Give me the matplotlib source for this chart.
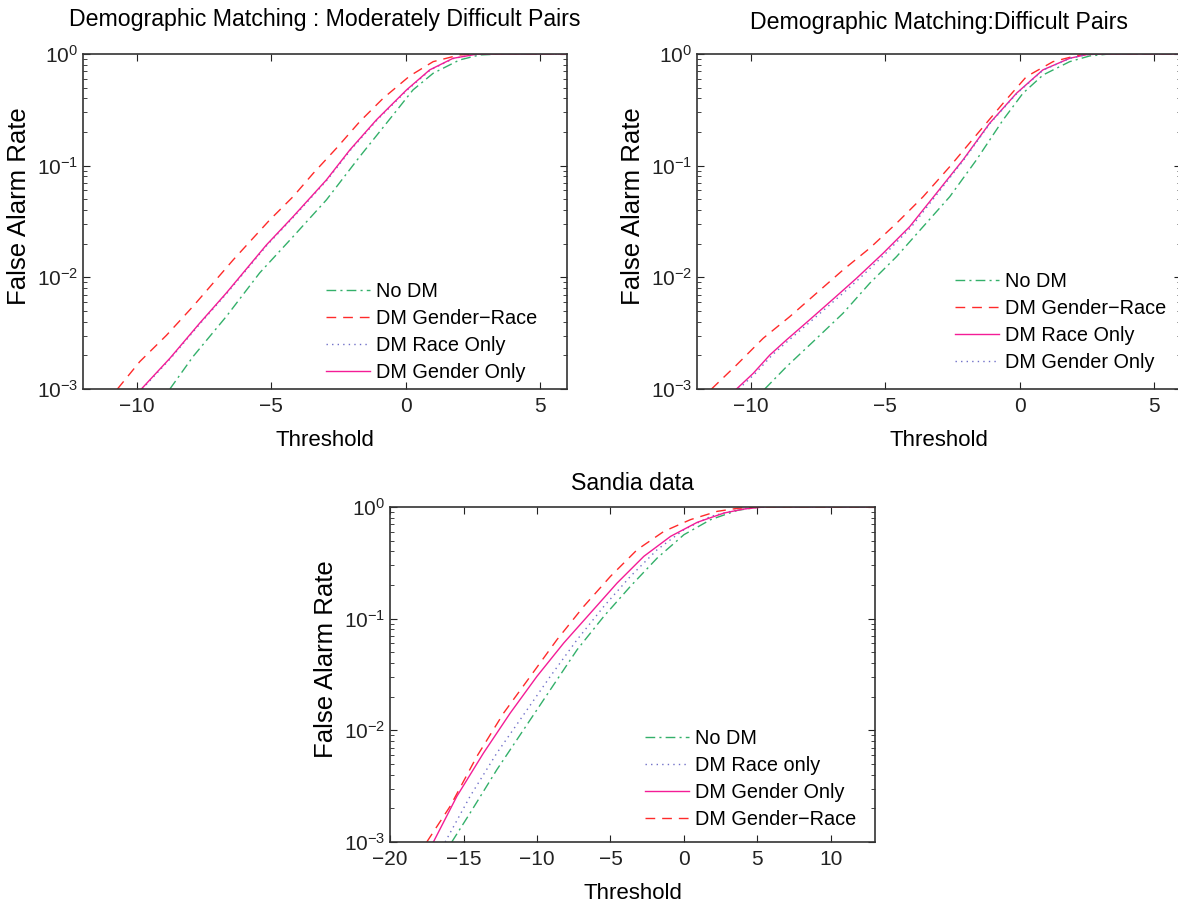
import numpy as np
import matplotlib
matplotlib.use("Agg")
import matplotlib.pyplot as plt
from matplotlib.ticker import LogLocator, NullFormatter

plt.rcParams["font.family"] = ["Liberation Sans", "DejaVu Sans"]
plt.rcParams["mathtext.fontset"] = "custom"
plt.rcParams["mathtext.rm"] = "Liberation Sans"
plt.rcParams["mathtext.it"] = "Liberation Sans:italic"

# colours / styles shared by all panels
C_NODM = "#33b06a"
C_GR = "#ff2a2a"
C_RACE = "#7070c8"
C_GEN = "#f41c96"

# ---- Panel 1: moderately difficult pairs (threshold, log10 FAR) ----
p1_nodm_x = [-8.77, -7.91, -6.67, -5.43, -4.19, -2.95, -1.71, -0.47, 0.27, 1.02, 2.0, 2.75, 3.62, 6.0]
p1_nodm_y = [-3.0, -2.71, -2.35, -1.96, -1.636, -1.307, -0.919, -0.546, -0.322, -0.173, -0.054, -0.009, 0.0, 0.0]
p1_gr_x = [-10.72, -9.89, -8.9, -7.91, -6.42, -5.06, -4.19, -3.44, -2.58, -1.71, -0.84, 0.15, 1.02, 2.0, 2.63, 6.0]
p1_gr_y = [-3.0, -2.755, -2.52, -2.26, -1.845, -1.487, -1.278, -1.069, -0.845, -0.606, -0.397, -0.197, -0.069, -0.009, 0.0, 0.0]
p1_race_x = [-9.8, -8.74, -7.63, -6.64, -5.15, -4.16, -2.92, -2.05, -1.06, 0.06, 0.92, 1.79, 2.66, 3.3, 6.0]
p1_race_y = [-3.0, -2.725, -2.41, -2.14, -1.71, -1.457, -1.128, -0.86, -0.59, -0.322, -0.143, -0.039, -0.003, 0.0, 0.0]
p1_gen_x = [-9.83, -8.77, -7.66, -6.67, -5.18, -4.19, -2.95, -2.08, -1.09, 0.03, 0.89, 1.76, 2.63, 3.25, 6.0]
p1_gen_y = [-3.0, -2.725, -2.41, -2.14, -1.71, -1.457, -1.128, -0.86, -0.59, -0.322, -0.143, -0.039, -0.003, 0.0, 0.0]

# ---- Panel 2: difficult pairs ----
p2_nodm_x = [-9.48, -8.67, -7.68, -6.57, -5.58, -4.58, -3.59, -2.6, -1.61, -0.62, 0.12, 0.87, 1.86, 2.6, 3.35, 6.0]
p2_nodm_y = [-3.0, -2.8, -2.576, -2.322, -2.054, -1.815, -1.546, -1.278, -0.949, -0.591, -0.352, -0.188, -0.069, -0.018, 0.0, 0.0]
p2_gr_x = [-11.46, -10.53, -9.54, -8.55, -7.56, -6.57, -5.58, -4.58, -3.59, -2.6, -1.61, -0.62, 0.25, 1.24, 2.11, 2.6, 6.0]
p2_gr_y = [-3.0, -2.785, -2.546, -2.352, -2.143, -1.934, -1.74, -1.516, -1.278, -1.009, -0.725, -0.442, -0.203, -0.069, -0.015, 0.0, 0.0]
p2_race_x = [-10.53, -9.91, -9.29, -8.67, -7.81, -6.82, -6.07, -5.08, -4.09, -3.1, -2.11, -1.12, -0.12, 0.86, 1.86, 2.48, 3.1, 6.0]
p2_race_y = [-3.0, -2.86, -2.695, -2.56, -2.38, -2.17, -2.009, -1.785, -1.546, -1.248, -0.949, -0.621, -0.352, -0.143, -0.039, -0.006, 0.0, 0.0]
p2_gen_x = [-10.45, -9.83, -9.2, -8.57, -7.7, -6.7, -5.95, -4.98, -4.02, -3.05, -2.08, -1.1, -0.1, 0.88, 1.88, 2.5, 3.1, 6.0]
p2_gen_y = [-3.0, -2.86, -2.695, -2.56, -2.38, -2.17, -2.009, -1.785, -1.546, -1.248, -0.949, -0.621, -0.352, -0.143, -0.039, -0.006, 0.0, 0.0]

# ---- Panel 3: Sandia data ----
p3_nodm_x = [-15.8, -14.55, -12.73, -10.91, -9.09, -7.27, -5.45, -3.64, -1.82, 0.0, 1.82, 3.64, 5.0, 6.4, 13.0]
p3_nodm_y = [-3.0, -2.74, -2.352, -1.994, -1.636, -1.278, -0.979, -0.71, -0.457, -0.248, -0.113, -0.03, -0.003, 0.0, 0.0]
p3_race_x = [-16.25, -14.55, -12.73, -10.91, -9.09, -7.27, -5.45, -3.64, -1.82, 0.0, 1.82, 3.64, 5.0, 13.0]
p3_race_y = [-3.0, -2.59, -2.203, -1.86, -1.516, -1.188, -0.89, -0.621, -0.382, -0.203, -0.084, -0.024, 0.0, 0.0]
p3_gen_x = [-17.05, -15.45, -13.64, -11.82, -10.0, -8.18, -6.36, -4.55, -2.73, -0.91, 0.91, 2.73, 4.09, 5.45, 13.0]
p3_gen_y = [-3.0, -2.59, -2.203, -1.845, -1.516, -1.218, -0.949, -0.681, -0.442, -0.263, -0.137, -0.054, -0.018, 0.0, 0.0]
p3_gr_x = [-17.5, -15.91, -14.09, -12.27, -10.45, -8.64, -6.82, -5.0, -3.18, -1.36, 0.45, 2.27, 3.64, 5.0, 13.0]
p3_gr_y = [-3.0, -2.68, -2.233, -1.845, -1.516, -1.188, -0.89, -0.621, -0.382, -0.218, -0.113, -0.039, -0.012, 0.0, 0.0]

TICK_FS = 15
TITLE_FS = 16.7
XLAB_FS = 16
YLAB_FS = 18.5
LEG_FS = 14.3

STYLES = {
    "nodm": dict(color=C_NODM, linestyle=(0, (7, 3, 1.5, 3)), lw=1.0),
    "gr": dict(color=C_GR, linestyle=(0, (7, 5)), lw=1.0),
    "race": dict(color=C_RACE, linestyle=(0, (1, 3)), lw=1.0),
    "gen": dict(color=C_GEN, linestyle="-", lw=1.0),
}


def style_axes(ax, xlim, xticks, title, title_pad):
    ax.set_yscale("log")
    ax.set_xlim(*xlim)
    ax.set_ylim(1e-3, 1)
    ax.set_xticks(xticks)
    ax.set_yticks([1e-3, 1e-2, 1e-1, 1])
    ax.yaxis.set_minor_locator(LogLocator(base=10, subs=np.arange(2, 10)))
    ax.yaxis.set_minor_formatter(NullFormatter())
    ax.tick_params(which="both", direction="in", top=True, right=True,
                   labelsize=TICK_FS, colors="#222222")
    ax.tick_params(which="major", length=5, width=0.8)
    ax.tick_params(which="minor", length=3, width=0.6)
    ax.tick_params(axis="x", pad=6)
    for s in ax.spines.values():
        s.set_linewidth(1.2)
        s.set_color("#333333")
    ax.set_xlabel("Threshold", fontsize=XLAB_FS, labelpad=10)
    ax.set_ylabel("False Alarm Rate", fontsize=YLAB_FS)
    # label sits a little above the axes centre, as in the source figure
    ax.yaxis.set_label_coords(-0.108, 0.545)
    ax.set_title(title, fontsize=TITLE_FS, pad=title_pad)


def draw(ax, series):
    for key, xs, ys, label in series:
        ax.plot(xs, 10 ** np.array(ys), label=label, **STYLES[key])


fig = plt.figure(figsize=(11.78, 9.05), dpi=100)

ax1 = fig.add_axes([0.0705, 0.5702, 0.4109, 0.3702])
draw(ax1, [
    ("nodm", p1_nodm_x, p1_nodm_y, "No DM"),
    ("gr", p1_gr_x, p1_gr_y, "DM Gender\u2212Race"),
    ("race", p1_race_x, p1_race_y, "DM Race Only"),
    ("gen", p1_gen_x, p1_gen_y, "DM Gender Only"),
])
style_axes(ax1, (-12, 6), [-10, -5, 0, 5],
           "Demographic Matching : Moderately Difficult Pairs", 20)

ax2 = fig.add_axes([0.5917, 0.5702, 0.4109, 0.3702])
draw(ax2, [
    ("nodm", p2_nodm_x, p2_nodm_y, "No DM"),
    ("gr", p2_gr_x, p2_gr_y, "DM Gender\u2212Race"),
    ("gen", p2_race_x, p2_race_y, "DM Race Only"),
    ("race", p2_gen_x, p2_gen_y, "DM Gender Only"),
])
style_axes(ax2, (-12, 6), [-10, -5, 0, 5],
           "Demographic Matching:Difficult Pairs", 18)

ax3 = fig.add_axes([0.3311, 0.0696, 0.4117, 0.3702])
draw(ax3, [
    ("nodm", p3_nodm_x, p3_nodm_y, "No DM"),
    ("race", p3_race_x, p3_race_y, "DM Race only"),
    ("gen", p3_gen_x, p3_gen_y, "DM Gender Only"),
    ("gr", p3_gr_x, p3_gr_y, "DM Gender\u2212Race"),
])
style_axes(ax3, (-20, 13), [-20, -15, -10, -5, 0, 5, 10], "Sandia data", 12)

leg_kw = dict(frameon=False, fontsize=LEG_FS, handlelength=2.2, handletextpad=0.3,
              labelspacing=0.4, borderpad=0, borderaxespad=0, loc="upper left")
ax1.legend(bbox_to_anchor=(0.2767, 0.688), bbox_transform=fig.transFigure, **leg_kw)
ax2.legend(bbox_to_anchor=(0.8107, 0.699), bbox_transform=fig.transFigure, **leg_kw)
ax3.legend(bbox_to_anchor=(0.5475, 0.194), bbox_transform=fig.transFigure, **leg_kw)

fig.savefig("out.png", dpi=100)
